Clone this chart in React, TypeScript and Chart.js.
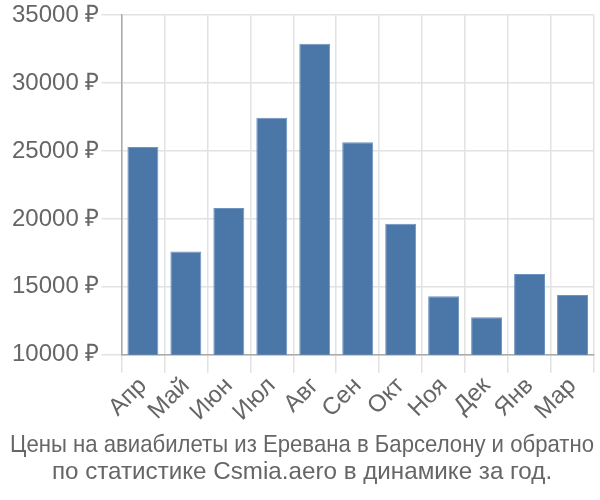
import React, { useEffect, useRef } from "react";
import { Chart, registerables } from "chart.js";

Chart.register(...registerables);

const months = ["Апр", "Май", "Июн", "Июл", "Авг", "Сен", "Окт", "Ноя", "Дек", "Янв", "Мар"];
const prices = [25300, 17600, 20800, 27450, 32900, 25650, 19650, 14300, 12750, 15950, 14400];
const yTicks = [10000, 15000, 20000, 25000, 30000, 35000];
const titleLines = [
  "Цены на авиабилеты из Еревана в Барселону и обратно",
  "по статистике Csmia.aero в динамике за год.",
];

const tickFont = { family: "Liberation Sans, Arial, sans-serif", size: 24, lineHeight: 1.1 };

export default function App() {
  const ref = useRef<HTMLCanvasElement | null>(null);
  useEffect(() => {
    if (!ref.current) return;
    const chart = new Chart(ref.current, {
      type: "bar",
      data: {
        labels: months,
        datasets: [
          {
            data: prices,
            backgroundColor: "#4a76a8",
            borderColor: "#6d93c0",
            borderWidth: 1,
          },
        ],
      },
      options: {
        animation: false,
        responsive: false,
        maintainAspectRatio: false,
        layout: { padding: { left: 10, right: 6, top: 1, bottom: 10 } },
        plugins: {
          legend: { display: false },
          tooltip: { enabled: false },
          title: {
            display: true,
            position: "bottom",
            text: titleLines,
            color: "#666",
            font: { family: "Liberation Sans, Arial, sans-serif", size: 24.2, weight: "normal", lineHeight: 1.12 },
            padding: { top: 6, bottom: 4 },
          },
        },
        scales: {
          x: {
            grid: { color: "#e2e2e2", lineWidth: 1.5, tickLength: 18, offset: true },
            border: { color: "#aaa", width: 1.5 },
            ticks: {
              color: "#666",
              font: tickFont,
              minRotation: 45,
              maxRotation: 45,
              padding: 0,
            },
          },
          y: {
            min: 10000,
            max: 35000,
            afterBuildTicks: (axis: any) => {
              axis.ticks = yTicks.map((v) => ({ value: v }));
            },
            grid: { color: "#e2e2e2", lineWidth: 1.5, tickLength: 20 },
            border: { color: "#aaa", width: 1.5 },
            ticks: {
              color: "#666",
              font: tickFont,
              padding: 2,
              callback: (v: any) => v + " ₽",
            },
          },
        },
      },
    });
    return () => chart.destroy();
  }, []);
  return (
    <div style={{ position: "absolute", left: 0, top: 0, width: 600, height: 500 }}>
      <canvas ref={ref} width={600} height={500} />
    </div>
  );
}
